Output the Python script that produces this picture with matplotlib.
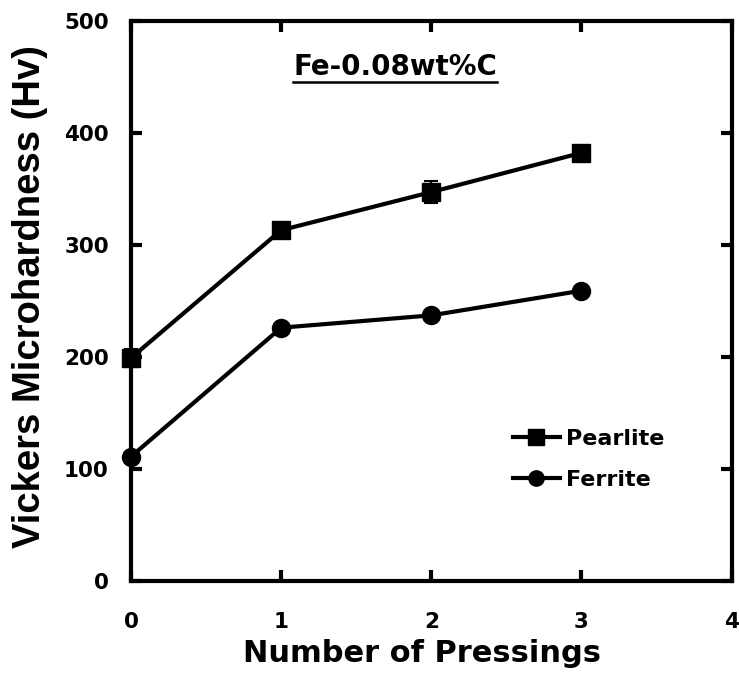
import matplotlib
matplotlib.use("Agg")
import matplotlib.pyplot as plt
from matplotlib.lines import Line2D

plt.rcParams['font.family'] = ['DejaVu Sans']
plt.rcParams['font.weight'] = 'bold'

passes = [0, 1, 2, 3]
pearlite = [199, 313, 347, 382]
pearlite_err = [8, 4, 10, 4]
ferrite = [111, 226, 237, 259]
ferrite_err = [3, 3, 3, 3]

x_ticks = [0, 1, 2, 3, 4]
y_ticks = [0, 100, 200, 300, 400, 500]
title_text = "Fe-0.08wt%C"

fig = plt.figure(figsize=(7.39, 6.77), dpi=100)
ax = fig.add_axes([0.1773, 0.1418, 0.8127, 0.8278])

ax.errorbar(passes, pearlite, yerr=pearlite_err, color='black', lw=3,
            marker='s', ms=13, capsize=5, elinewidth=1.5, capthick=1.5,
            label='Pearlite', clip_on=False, zorder=3)
ax.errorbar(passes, ferrite, yerr=ferrite_err, color='black', lw=3,
            marker='o', ms=13, capsize=5, elinewidth=1.5, capthick=1.5,
            label='Ferrite', clip_on=False, zorder=3)

ax.set_xlim(0, 4)
ax.set_ylim(0, 500)
ax.set_xticks(x_ticks)
ax.set_yticks(y_ticks)
ax.tick_params(direction='in', length=8, width=3, top=True, right=True,
               labelsize=15.5)
ax.tick_params(axis='x', pad=22)
ax.tick_params(axis='y', pad=16)
for lab in ax.get_xticklabels() + ax.get_yticklabels():
    lab.set_fontweight('bold')
for sp in ax.spines.values():
    sp.set_linewidth(3)

ax.set_xlabel("Number of Pressings", fontsize=22, fontweight='bold', va='top')
ax.xaxis.set_label_coords(0.484, -0.103)
ax.set_ylabel("Vickers Microhardness (Hv)", fontsize=27.5, fontweight='bold',
              family=['Liberation Sans', 'DejaVu Sans'], va='center')
ax.yaxis.set_label_coords(-0.168, 0.507)

t = ax.text(1.76, 459, title_text, ha='center', va='center', fontsize=20,
            fontweight='bold')

handles = [Line2D([], [], color='black', lw=3, marker='s', ms=11),
           Line2D([], [], color='black', lw=3, marker='o', ms=11)]
ax.legend(handles, ['Pearlite', 'Ferrite'], frameon=False, fontsize=16,
          loc='upper left', bbox_to_anchor=(0.636, 0.271), handlelength=2.1,
          handletextpad=0.3, labelspacing=0.93, borderaxespad=0, borderpad=0)

# underline the alloy label
fig.canvas.draw()
bb = t.get_window_extent(fig.canvas.get_renderer())
inv = ax.transData.inverted()
(x0, y0), (x1, _) = inv.transform([(bb.x0, bb.y0 - 1), (bb.x1, bb.y0 - 1)])
ax.plot([x0, x1], [y0, y0], color='black', lw=1.8, clip_on=False)

fig.savefig("out.png", dpi=100)
